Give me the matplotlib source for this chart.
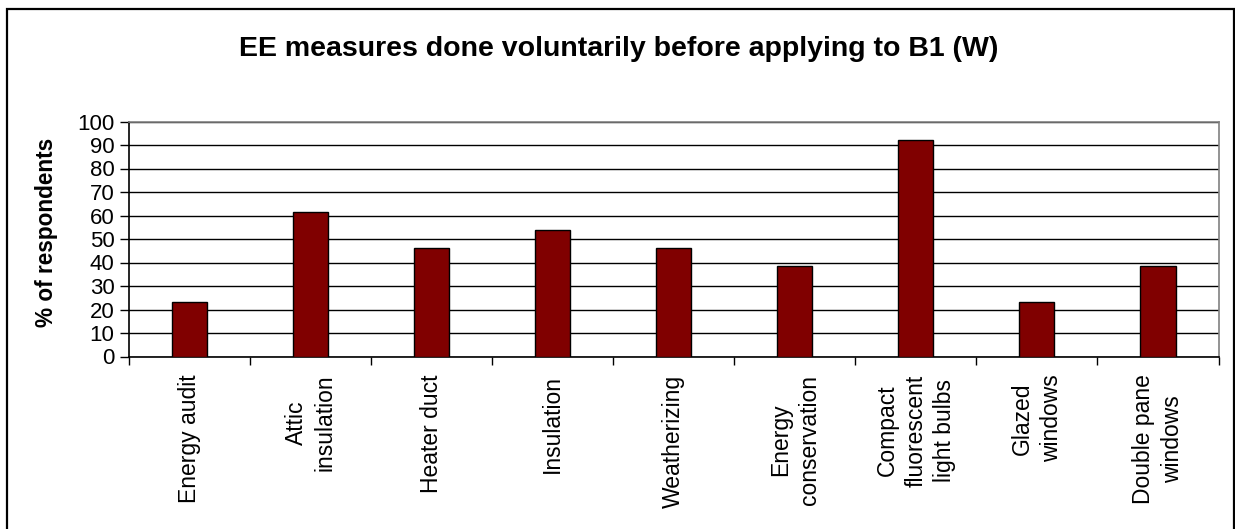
import matplotlib
matplotlib.use("Agg")
import matplotlib.pyplot as plt
from matplotlib.patches import Rectangle
import numpy as np

categories = ["Energy audit", "Attic\ninsulation", "Heater duct", "Insulation",
              "Weatherizing", "Energy\nconservation", "Compact\nfluorescent\nlight bulbs",
              "Glazed\nwindows", "Double pane\nwindows"]
values = [23.1, 61.5, 46.2, 53.8, 46.2, 38.5, 92.3, 23.1, 38.5]
yticks = list(range(0, 101, 10))

plt.rcParams['font.family'] = ['Liberation Sans', 'DejaVu Sans']

W, H = 1235, 529
fig = plt.figure(figsize=(W / 100, H / 100), dpi=100)
ax = fig.add_axes([129 / W, 1 - 356.5 / H, (1218.5 - 129) / W, (356.5 - 121.5) / H])

x = np.arange(len(categories))
ax.bar(x, values, width=0.29, color="#800000", edgecolor="black", linewidth=1.0, zorder=3)

ax.set_xlim(-0.5, len(categories) - 0.5)
ax.set_ylim(0, 100)
ax.set_yticks(yticks)
ax.yaxis.grid(True, color="black", linewidth=1.0, zorder=0)
ax.tick_params(axis='y', labelsize=16, length=6.5, width=1, pad=4, direction='out')

ax.set_xticks(x)
ax.set_xticklabels(categories, rotation=90, ha='center', va='top', multialignment='center',
                   fontsize=16.5, linespacing=1.3)
ax.tick_params(axis='x', which='major', length=0, pad=13)
ax.set_xticks(np.arange(-0.5, len(categories), 1.0), minor=True)
ax.tick_params(axis='x', which='minor', length=6, width=1, direction='out')

for s in ['left', 'bottom']:
    ax.spines[s].set_color('black')
    ax.spines[s].set_linewidth(1.2)
for s in ['top', 'right']:
    ax.spines[s].set_color('#808080')
    ax.spines[s].set_linewidth(1.2)

fig.text(47 / W, 1 - 232.5 / H, "% of respondents", rotation=90, ha='center', va='center',
         fontsize=16.3, fontweight='bold')

fig.text(619 / W, 1 - 56 / H, "EE measures done voluntarily before applying to B1 (W)",
         ha='center', va='baseline', fontsize=20.5, fontweight='bold')

fig.patches.append(Rectangle((7 / W, -0.02), (1233.5 - 7) / W, 1.02 - 9 / H,
                             transform=fig.transFigure, fill=False,
                             edgecolor='black', linewidth=1.6))

fig.savefig("out.png", dpi=100)
